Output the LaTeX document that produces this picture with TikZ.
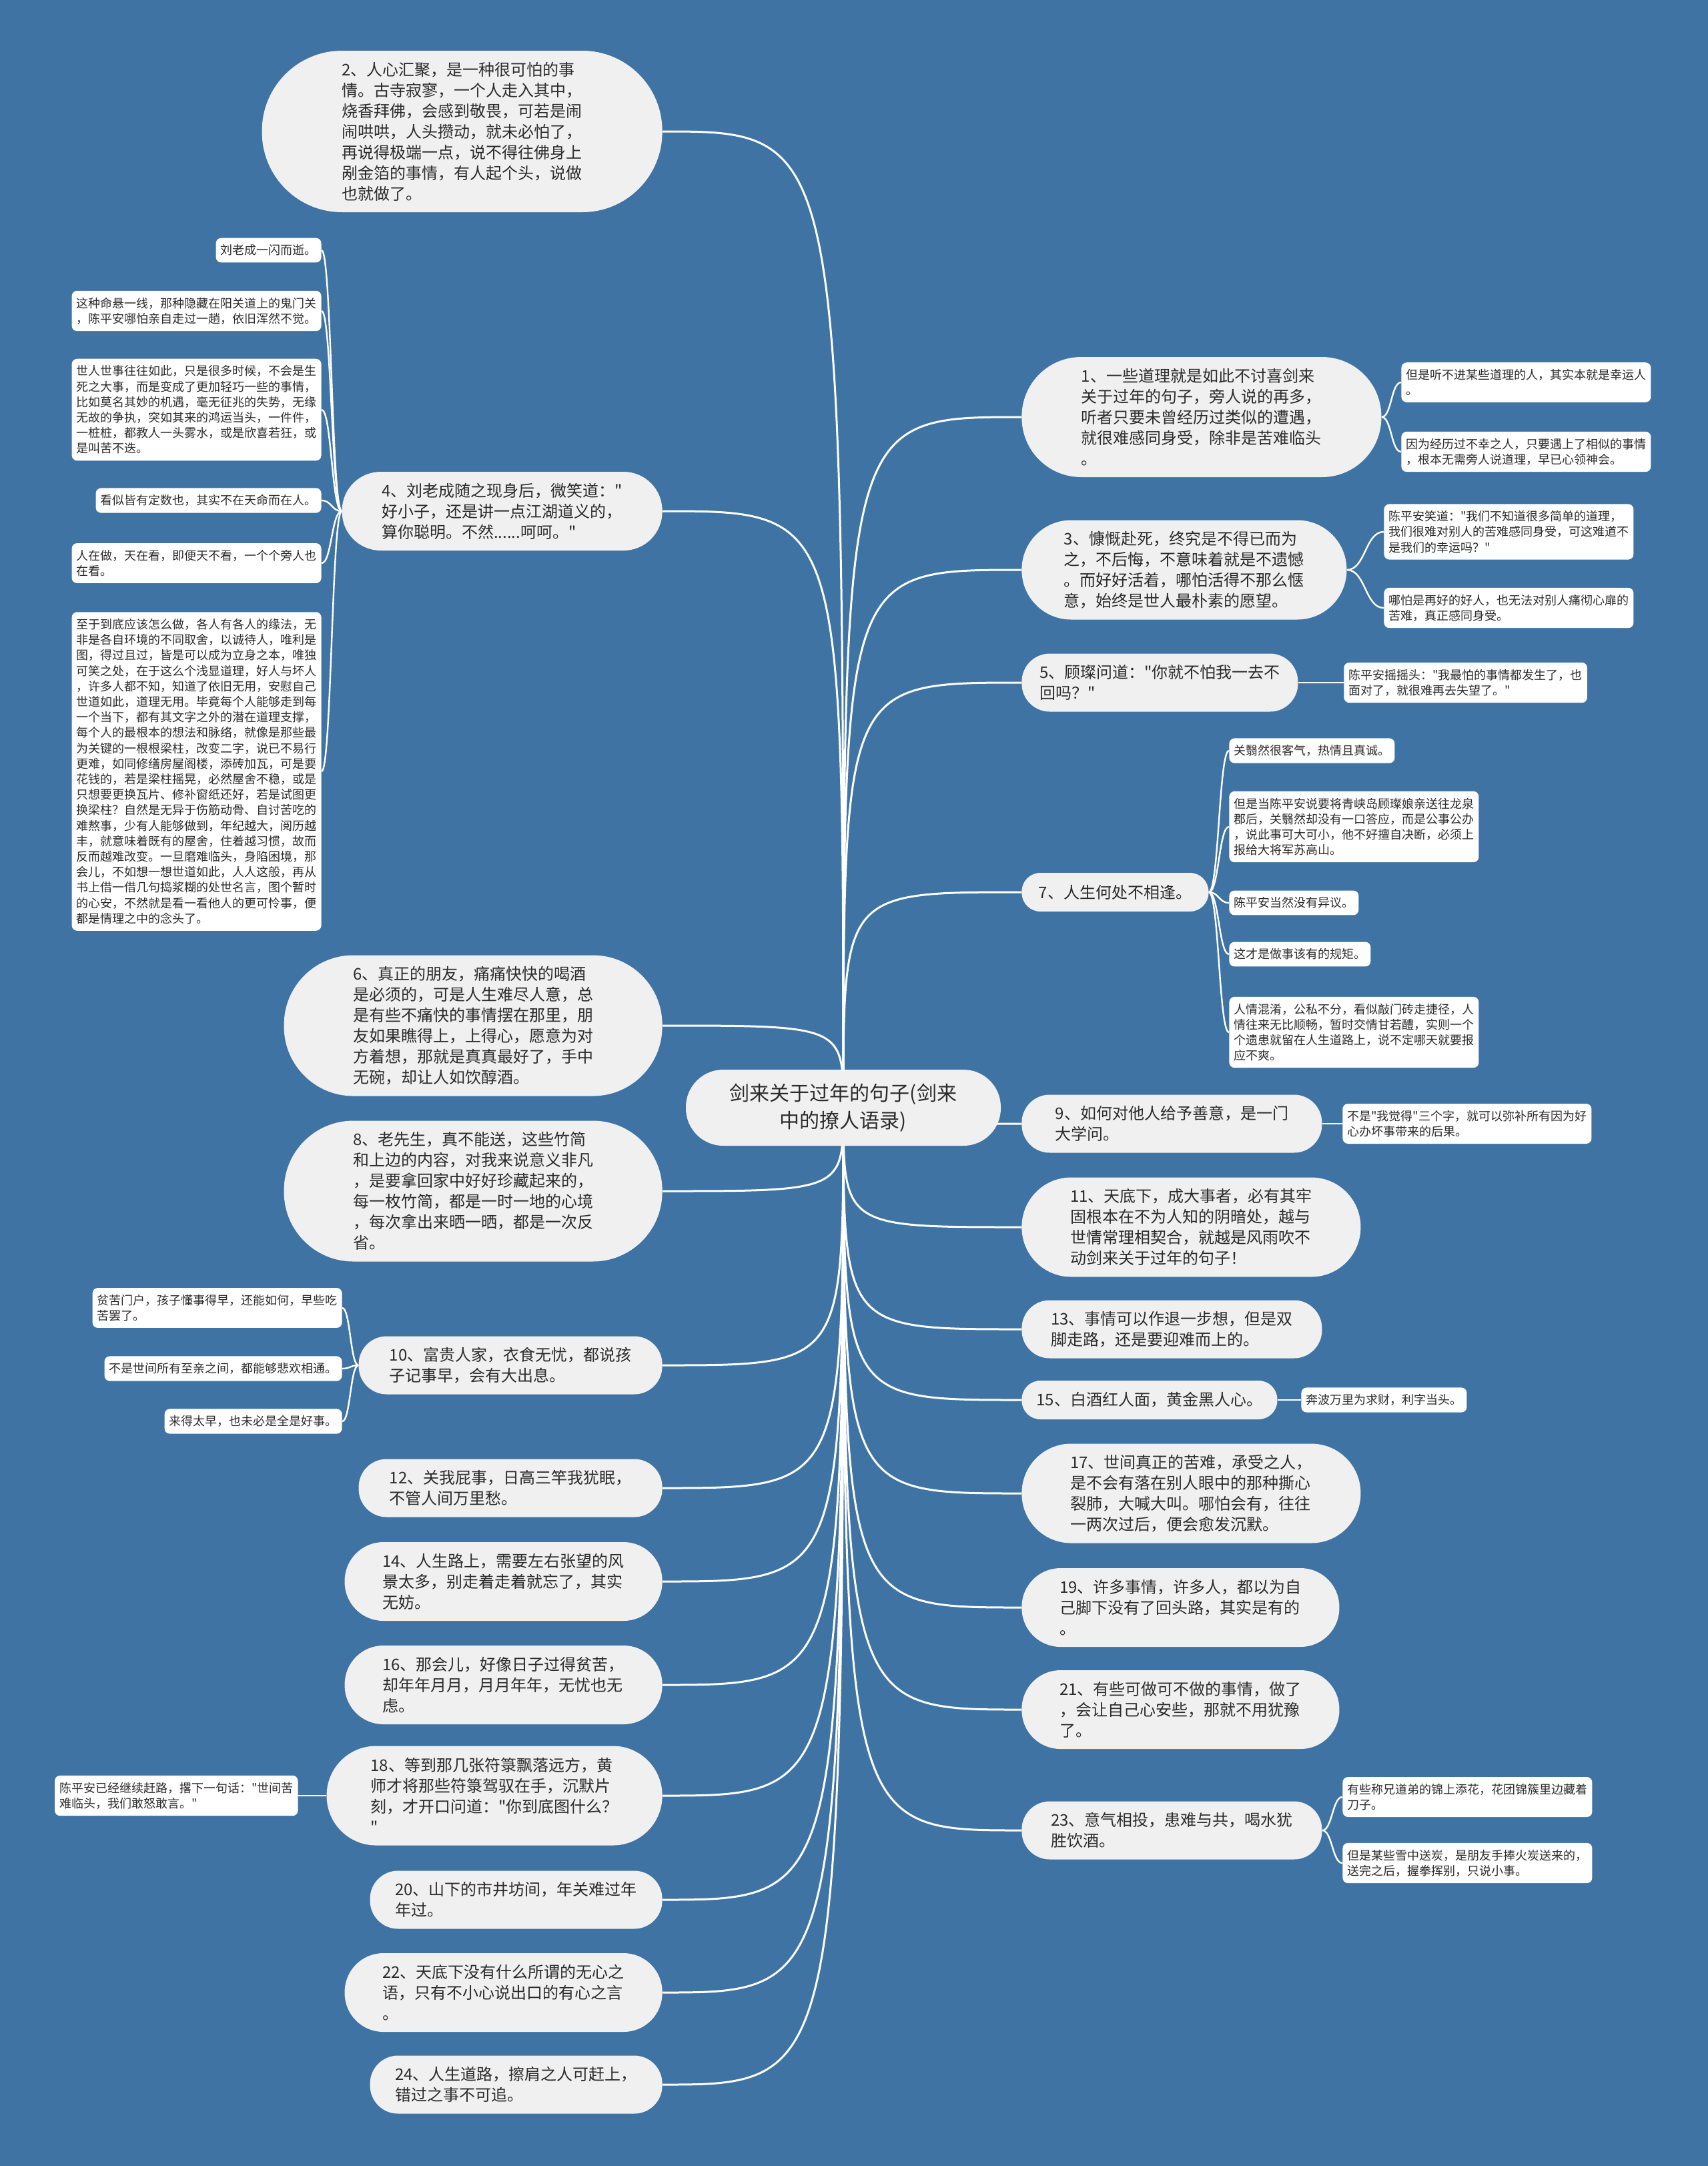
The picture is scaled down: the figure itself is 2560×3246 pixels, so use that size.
\documentclass[tikz,border=0pt]{standalone}
\usepackage{fontspec}
\setmainfont{Noto Sans CJK SC}
\newfontfamily\cjk{Noto Sans CJK SC}
\usetikzlibrary{calc}
\definecolor{bgblue}{HTML}{3E73A3}
\definecolor{mainfill}{HTML}{F0F0F0}
\definecolor{txt}{HTML}{2B2B2B}
\pgfdeclarelayer{back}
\pgfdeclarelayer{lines}
\pgfsetlayers{back,lines,main}
\begin{document}
\begin{tikzpicture}[x=0.5pt,y=-0.5pt,
  mainn/.style={fill=mainfill,text=txt,align=left,inner sep=0pt,font=\cjk\fontsize{12}{15.5}\selectfont},
  sz/.style n args={3}{minimum width=#1pt,minimum height=#2pt,rounded corners=#3pt},
  leafn/.style={fill=white,text=txt,align=left,inner xsep=3.5pt,inner ysep=5pt,rounded corners=4pt,font=\cjk\fontsize{9}{11.6}\selectfont},
  mline/.style={draw=white,line width=1.5pt},
  lline/.style={draw=white,line width=1.2pt}]
\useasboundingbox (0,0) rectangle (2560,3246);
\begin{pgfonlayer}{back}
\fill[bgblue] (0,0) rectangle (2560,3246);
\end{pgfonlayer}

% centre
\coordinate (hub) at (1264,1660);
\node[mainn,align=center,sz={236}{57}{28},font=\cjk\fontsize{15}{20.5}\selectfont] (c) at (1264,1660) {剑来关于过年的句子(剑来\\中的撩人语录)};

% left main nodes
\node[mainn,sz={300}{121}{60},anchor=east] (n2) at (993,197) {2、人心汇聚，是一种很可怕的事\\情。古寺寂寥，一个人走入其中，\\烧香拜佛，会感到敬畏，可若是闹\\闹哄哄，人头攒动，就未必怕了，\\再说得极端一点，说不得往佛身上\\剐金箔的事情，有人起个头，说做\\也就做了。};
\node[mainn,sz={240}{59}{29},anchor=east] (n4) at (993,766) {4、刘老成随之现身后，微笑道："\\好小子，还是讲一点江湖道义的，\\算你聪明。不然......呵呵。"};
\node[mainn,sz={283.5}{105.5}{52},anchor=east] (n6) at (993,1537) {6、真正的朋友，痛痛快快的喝酒\\是必须的，可是人生难尽人意，总\\是有些不痛快的事情摆在那里，朋\\友如果瞧得上，上得心，愿意为对\\方着想，那就是真真最好了，手中\\无碗，却让人如饮醇酒。};
\node[mainn,sz={283.5}{105.5}{52},anchor=east] (n8) at (993,1785) {8、老先生，真不能送，这些竹简\\和上边的内容，对我来说意义非凡\\，是要拿回家中好好珍藏起来的，\\每一枚竹简，都是一时一地的心境\\，每次拿出来晒一晒，都是一次反\\省。};
\node[mainn,sz={227.5}{43.5}{21},anchor=east] (n10) at (993,2046) {10、富贵人家，衣食无忧，都说孩\\子记事早，会有大出息。};
\node[mainn,sz={227.5}{43.5}{21},anchor=east] (n12) at (993,2230) {12、关我屁事，日高三竿我犹眠，\\不管人间万里愁。};
\node[mainn,sz={238}{59}{29},anchor=east] (n14) at (993,2370) {14、人生路上，需要左右张望的风\\景太多，别走着走着就忘了，其实\\无妨。};
\node[mainn,sz={238}{59}{29},anchor=east] (n16) at (993,2525) {16、那会儿，好像日子过得贫苦，\\却年年月月，月月年年，无忧也无\\虑。};
\node[mainn,sz={251.5}{74.5}{37},anchor=east] (n18) at (993,2691) {18、等到那几张符箓飘落远方，黄\\师才将那些符箓驾驭在手，沉默片\\刻，才开口问道："你到底图什么？\\"};
\node[mainn,sz={219}{43.5}{21},anchor=east] (n20) at (993,2847) {20、山下的市井坊间，年关难过年\\年过。};
\node[mainn,sz={238}{59}{29},anchor=east] (n22) at (993,2986) {22、天底下没有什么所谓的无心之\\语，只有不小心说出口的有心之言\\。};
\node[mainn,sz={219}{43.5}{21},anchor=east] (n24) at (993,3124) {24、人生道路，擦肩之人可赶上，\\错过之事不可追。};

% right main nodes
\node[mainn,sz={269.5}{90}{44.5},anchor=west] (n1) at (1531,625) {1、一些道理就是如此不讨喜剑来\\关于过年的句子，旁人说的再多，\\听者只要未曾经历过类似的遭遇，\\就很难感同身受，除非是苦难临头\\。};
\node[mainn,sz={243.5}{74.5}{37},anchor=west] (n3) at (1531,854) {3、慷慨赴死，终究是不得已而为\\之，不后悔，不意味着就是不遗憾\\。而好好活着，哪怕活得不那么惬\\意，始终是世人最朴素的愿望。};
\node[mainn,sz={207}{43.5}{21},anchor=west] (n5) at (1531,1023) {5、顾璨问道："你就不怕我一去不\\回吗？"};
\node[mainn,sz={140}{29}{14},anchor=west] (n7) at (1531,1337) {7、人生何处不相逢。};
\node[mainn,sz={225}{43.5}{21},anchor=west] (n9) at (1531,1684) {9、如何对他人给予善意，是一门\\大学问。};
\node[mainn,sz={254}{74.5}{37},anchor=west] (n11) at (1531,1839) {11、天底下，成大事者，必有其牢\\固根本在不为人知的阴暗处，越与\\世情常理相契合，就越是风雨吹不\\动剑来关于过年的句子！};
\node[mainn,sz={225}{43.5}{21},anchor=west] (n13) at (1531,1992) {13、事情可以作退一步想，但是双\\脚走路，还是要迎难而上的。};
\node[mainn,sz={191.5}{29}{14},anchor=west] (n15) at (1531,2098) {15、白酒红人面，黄金黑人心。};
\node[mainn,sz={254}{74.5}{37},anchor=west] (n17) at (1531,2238) {17、世间真正的苦难，承受之人，\\是不会有落在别人眼中的那种撕心\\裂肺，大喊大叫。哪怕会有，往往\\一两次过后，便会愈发沉默。};
\node[mainn,sz={238}{59}{29},anchor=west] (n19) at (1531,2409) {19、许多事情，许多人，都以为自\\己脚下没有了回头路，其实是有的\\。};
\node[mainn,sz={238}{59}{29},anchor=west] (n21) at (1531,2562) {21、有些可做可不做的事情，做了\\，会让自己心安些，那就不用犹豫\\了。};
\node[mainn,sz={225}{43.5}{21},anchor=west] (n23) at (1531,2743) {23、意气相投，患难与共，喝水犹\\胜饮酒。};

% left leaves
\node[leafn,anchor=east] (l4a) at (482,375) {刘老成一闪而逝。};
\node[leafn,anchor=east] (l4b) at (482,466) {这种命悬一线，那种隐藏在阳关道上的鬼门关\\，陈平安哪怕亲自走过一趟，依旧浑然不觉。};
\node[leafn,anchor=east] (l4c) at (482,614) {世人世事往往如此，只是很多时候，不会是生\\死之大事，而是变成了更加轻巧一些的事情，\\比如莫名其妙的机遇，毫无征兆的失势，无缘\\无故的争执，突如其来的鸿运当头，一件件，\\一桩桩，都教人一头雾水，或是欣喜若狂，或\\是叫苦不迭。};
\node[leafn,anchor=east] (l4d) at (482,750) {看似皆有定数也，其实不在天命而在人。};
\node[leafn,anchor=east] (l4e) at (482,844) {人在做，天在看，即便天不看，一个个旁人也\\在看。};
\node[leafn,anchor=east] (l4f) at (482,1156) {至于到底应该怎么做，各人有各人的缘法，无\\非是各自环境的不同取舍，以诚待人，唯利是\\图，得过且过，皆是可以成为立身之本，唯独\\可笑之处，在于这么个浅显道理，好人与坏人\\，许多人都不知，知道了依旧无用，安慰自己\\世道如此，道理无用。毕竟每个人能够走到每\\一个当下，都有其文字之外的潜在道理支撑，\\每个人的最根本的想法和脉络，就像是那些最\\为关键的一根根梁柱，改变二字，说已不易行\\更难，如同修缮房屋阁楼，添砖加瓦，可是要\\花钱的，若是梁柱摇晃，必然屋舍不稳，或是\\只想要更换瓦片、修补窗纸还好，若是试图更\\换梁柱？自然是无异于伤筋动骨、自讨苦吃的\\难熬事，少有人能够做到，年纪越大，阅历越\\丰，就意味着既有的屋舍，住着越习惯，故而\\反而越难改变。一旦磨难临头，身陷困境，那\\会儿，不如想一想世道如此，人人这般，再从\\书上借一借几句捣浆糊的处世名言，图个暂时\\的心安，不然就是看一看他人的更可怜事，便\\都是情理之中的念头了。};
\node[leafn,anchor=east] (l10a) at (513,1960) {贫苦门户，孩子懂事得早，还能如何，早些吃\\苦罢了。};
\node[leafn,anchor=east] (l10b) at (513,2051) {不是世间所有至亲之间，都能够悲欢相通。};
\node[leafn,anchor=east] (l10c) at (513,2130) {来得太早，也未必是全是好事。};
\node[leafn,anchor=east] (l18) at (447,2691) {陈平安已经继续赶路，撂下一句话："世间苦\\难临头，我们敢怒敢言。"};

% right leaves
\node[leafn,anchor=west] (l1a) at (2100,573) {但是听不进某些道理的人，其实本就是幸运人\\。};
\node[leafn,anchor=west] (l1b) at (2100,677) {因为经历过不幸之人，只要遇上了相似的事情\\，根本无需旁人说道理，早已心领神会。};
\node[leafn,anchor=west] (l3a) at (2074,797) {陈平安笑道："我们不知道很多简单的道理，\\我们很难对别人的苦难感同身受，可这难道不\\是我们的幸运吗？"};
\node[leafn,anchor=west] (l3b) at (2074,911) {哪怕是再好的好人，也无法对别人痛彻心扉的\\苦难，真正感同身受。};
\node[leafn,anchor=west] (l5) at (2014,1023) {陈平安摇摇头："我最怕的事情都发生了，也\\面对了，就很难再去失望了。"};
\node[leafn,anchor=west] (l7a) at (1842,1125) {关翳然很客气，热情且真诚。};
\node[leafn,anchor=west] (l7b) at (1842,1239) {但是当陈平安说要将青峡岛顾璨娘亲送往龙泉\\郡后，关翳然却没有一口答应，而是公事公办\\，说此事可大可小，他不好擅自决断，必须上\\报给大将军苏高山。};
\node[leafn,anchor=west] (l7c) at (1842,1353) {陈平安当然没有异议。};
\node[leafn,anchor=west] (l7d) at (1842,1430) {这才是做事该有的规矩。};
\node[leafn,anchor=west] (l7e) at (1842,1547) {人情混淆，公私不分，看似敲门砖走捷径，人\\情往来无比顺畅，暂时交情甘若醴，实则一个\\个遗患就留在人生道路上，说不定哪天就要报\\应不爽。};
\node[leafn,anchor=west] (l9) at (2012,1684) {不是"我觉得"三个字，就可以弥补所有因为好\\心办坏事带来的后果。};
\node[leafn,anchor=west] (l15) at (1950,2098) {奔波万里为求财，利字当头。};
\node[leafn,anchor=west] (l23a) at (2012,2693) {有些称兄道弟的锦上添花，花团锦簇里边藏着\\刀子。};
\node[leafn,anchor=west] (l23b) at (2012,2792) {但是某些雪中送炭，是朋友手捧火炭送来的，\\送完之后，握拳挥别，只说小事。};

\begin{pgfonlayer}{lines}
\foreach \n in {n2,n4,n6,n8,n10,n12,n14,n16,n18,n20,n22,n24}
  \draw[mline] (hub) .. controls (hub |- \n.east) .. (\n.east);
\foreach \n in {n1,n3,n5,n7,n9,n11,n13,n15,n17,n19,n21,n23}
  \draw[mline] (hub) .. controls (hub |- \n.west) .. (\n.west);
\foreach \l in {l1a,l1b}
  \draw[lline] (n1.east) .. controls +(15,0) and +(-15,0) .. (\l.west);
\foreach \l in {l3a,l3b}
  \draw[lline] (n3.east) .. controls +(28,0) and +(-28,0) .. (\l.west);
\foreach \l in {l7a,l7b,l7c,l7d,l7e}
  \draw[lline] (n7.east) .. controls +(15,0) and +(-15,0) .. (\l.west);
\foreach \l in {l23a,l23b}
  \draw[lline] (n23.east) .. controls +(15,0) and +(-15,0) .. (\l.west);
\foreach \l in {l4a,l4b,l4c,l4d,l4e,l4f}
  \draw[lline] (n4.west) .. controls +(-15,0) and +(15,0) .. (\l.east);
\foreach \l in {l10a,l10b,l10c}
  \draw[lline] (n10.west) .. controls +(-12,0) and +(12,0) .. (\l.east);
\draw[lline] (n5.east) -- (l5.west);
\draw[lline] (n9.east) -- (l9.west);
\draw[lline] (n15.east) -- (l15.west);
\draw[lline] (n18.west) -- (l18.east);
\end{pgfonlayer}
\end{tikzpicture}
\end{document}
